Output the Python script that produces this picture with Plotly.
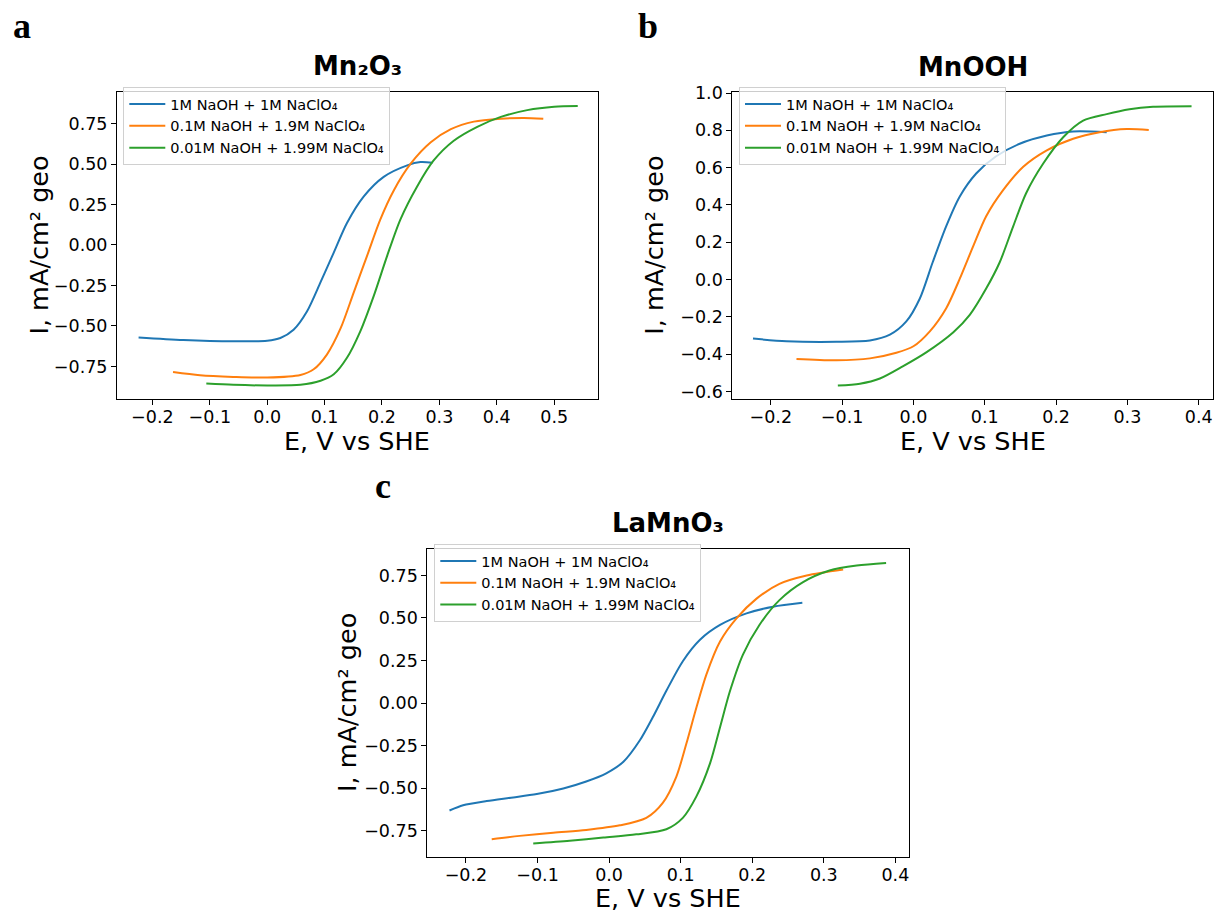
import plotly.graph_objects as go

W, H = 1216, 913

# ---------------- data ----------------
labels = ["1M NaOH + 1M NaClO₄", "0.1M NaOH + 1.9M NaClO₄", "0.01M NaOH + 1.99M NaClO₄"]
colors = ["#1f77b4", "#ff7f0e", "#2ca02c"]

# Panel a: Mn2O3
a_blue_x = [-0.224, -0.146, -0.059, 0.0, 0.023, 0.046, 0.069, 0.093, 0.116, 0.139, 0.168, 0.203, 0.244, 0.267, 0.288]
a_blue_y = [-0.571, -0.587, -0.595, -0.592, -0.575, -0.524, -0.413, -0.230, -0.047, 0.136, 0.299, 0.421, 0.492, 0.512, 0.508]
a_orange_x = [-0.164, -0.117, -0.059, 0.0, 0.058, 0.081, 0.104, 0.128, 0.151, 0.174, 0.197, 0.221, 0.250, 0.285, 0.320, 0.360, 0.407, 0.447, 0.481]
a_orange_y = [-0.785, -0.805, -0.815, -0.819, -0.803, -0.768, -0.677, -0.514, -0.291, -0.067, 0.157, 0.340, 0.502, 0.634, 0.715, 0.762, 0.780, 0.785, 0.780]
a_green_x = [-0.106, -0.059, 0.0, 0.058, 0.093, 0.116, 0.139, 0.162, 0.186, 0.209, 0.232, 0.261, 0.290, 0.325, 0.366, 0.407, 0.453, 0.500, 0.541]
a_green_y = [-0.856, -0.864, -0.868, -0.864, -0.839, -0.799, -0.697, -0.535, -0.311, -0.067, 0.157, 0.360, 0.522, 0.644, 0.730, 0.791, 0.833, 0.854, 0.858]

# Panel b: MnOOH
b_blue_x = [-0.225, -0.178, -0.108, -0.061, -0.033, -0.010, 0.009, 0.027, 0.046, 0.065, 0.088, 0.116, 0.149, 0.187, 0.224, 0.271]
b_blue_y = [-0.316, -0.330, -0.333, -0.326, -0.295, -0.224, -0.101, 0.093, 0.287, 0.446, 0.569, 0.661, 0.728, 0.772, 0.794, 0.790]
b_orange_x = [-0.164, -0.108, -0.061, -0.024, 0.0, 0.023, 0.046, 0.065, 0.084, 0.102, 0.126, 0.154, 0.187, 0.224, 0.261, 0.299, 0.330]
b_orange_y = [-0.425, -0.432, -0.422, -0.392, -0.357, -0.277, -0.153, 0.005, 0.181, 0.340, 0.481, 0.605, 0.693, 0.755, 0.790, 0.807, 0.802]
b_green_x = [-0.106, -0.075, -0.047, -0.015, 0.018, 0.056, 0.079, 0.102, 0.121, 0.140, 0.158, 0.182, 0.210, 0.238, 0.271, 0.303, 0.336, 0.390]
b_green_y = [-0.568, -0.558, -0.530, -0.465, -0.390, -0.282, -0.189, -0.048, 0.093, 0.287, 0.463, 0.622, 0.763, 0.852, 0.887, 0.913, 0.926, 0.929]

# Panel c: LaMnO3
c_blue_x = [-0.223, -0.204, -0.171, -0.134, -0.101, -0.064, -0.032, -0.004, 0.020, 0.043, 0.061, 0.080, 0.103, 0.127, 0.155, 0.192, 0.229, 0.270]
c_blue_y = [-0.632, -0.601, -0.576, -0.555, -0.535, -0.502, -0.461, -0.413, -0.345, -0.219, -0.084, 0.072, 0.246, 0.372, 0.459, 0.527, 0.566, 0.589]
c_orange_x = [-0.164, -0.125, -0.078, -0.032, 0.015, 0.052, 0.075, 0.094, 0.108, 0.122, 0.136, 0.155, 0.178, 0.206, 0.238, 0.276, 0.327]
c_orange_y = [-0.801, -0.781, -0.762, -0.746, -0.719, -0.675, -0.587, -0.432, -0.238, -0.026, 0.169, 0.362, 0.498, 0.614, 0.701, 0.750, 0.785]
c_green_x = [-0.106, -0.055, -0.008, 0.038, 0.080, 0.103, 0.122, 0.141, 0.155, 0.169, 0.187, 0.210, 0.238, 0.271, 0.308, 0.346, 0.387]
c_green_y = [-0.826, -0.810, -0.791, -0.772, -0.742, -0.675, -0.549, -0.355, -0.142, 0.072, 0.285, 0.459, 0.605, 0.711, 0.779, 0.808, 0.823]

titles = ["Mn₂O₃", "MnOOH", "LaMnO₃"]
panel_letters = ["a", "b", "c"]
x_label = "E, V vs SHE"
y_label = "I, mA/cm² geo"

a_xticks = [-0.2, -0.1, 0.0, 0.1, 0.2, 0.3, 0.4, 0.5]
a_yticks = [-0.75, -0.5, -0.25, 0.0, 0.25, 0.5, 0.75]
b_xticks = [-0.2, -0.1, 0.0, 0.1, 0.2, 0.3, 0.4]
b_yticks = [-0.6, -0.4, -0.2, 0.0, 0.2, 0.4, 0.6, 0.8, 1.0]
c_xticks = [-0.2, -0.1, 0.0, 0.1, 0.2, 0.3, 0.4]
c_yticks = [-0.75, -0.5, -0.25, 0.0, 0.25, 0.5, 0.75]

# ---------------- layout helpers ----------------
def px(x):
    return x / W

def py(y):
    return 1 - y / H

# axes boxes in pixels: (left, right, top, bottom)
boxes = [(117, 598, 84, 395), (732.3, 1213.3, 84.3, 395), (427.3, 909, 546.7, 858.3)]
xranges = [[-0.2616, 0.5763], [-0.254, 0.4205], [-0.254, 0.419]]
yranges = [[-0.953, 0.945], [-0.641, 1.004], [-0.905, 0.905]]
xticks = [a_xticks, b_xticks, c_xticks]
yticks = [a_yticks, b_yticks, c_yticks]
xfmt = [".1f", ".1f", ".1f"]
yfmt = [".2f", ".1f", ".2f"]
legend_pos = [(123.3, 79), (739, 79), (434.3, 541.5)]
ylabel_x = [39, 654, 347]

series = [
    [(a_blue_x, a_blue_y), (a_orange_x, a_orange_y), (a_green_x, a_green_y)],
    [(b_blue_x, b_blue_y), (b_orange_x, b_orange_y), (b_green_x, b_green_y)],
    [(c_blue_x, c_blue_y), (c_orange_x, c_orange_y), (c_green_x, c_green_y)],
]

FONT = "DejaVu Sans"
fig = go.Figure()
layout = dict(
    width=W, height=H, autosize=False,
    margin=dict(l=0, r=0, t=0, b=0),
    paper_bgcolor="white", plot_bgcolor="white",
    font=dict(family=FONT, color="black"),
    annotations=[],
)

for i in range(3):
    sfx = "" if i == 0 else str(i + 1)
    xa, ya = "x" + sfx, "y" + sfx
    leg = "legend" + sfx
    for j in range(3):
        xs, ys = series[i][j]
        fig.add_trace(go.Scatter(
            x=xs, y=ys, mode="lines", name=labels[j],
            line=dict(color=colors[j], width=2, shape="spline", smoothing=0.8),
            xaxis=xa, yaxis=ya, legend=leg, showlegend=True,
        ))
    l, r, t, b = boxes[i]
    common = dict(showline=True, linecolor="black", linewidth=1, mirror=True,
                  ticks="outside", ticklen=5, tickwidth=1, tickcolor="black",
                  showgrid=False, zeroline=False,
                  tickfont=dict(family=FONT, size=17.5, color="black"))
    layout["xaxis" + sfx] = dict(common, domain=[px(l), px(r)], range=xranges[i],
                                 tickvals=xticks[i], tickformat=xfmt[i], anchor=ya,
                                 ticklabelstandoff=-3)
    layout["yaxis" + sfx] = dict(common, domain=[py(b), py(t)], range=yranges[i],
                                 tickvals=yticks[i], tickformat=yfmt[i], anchor=xa)
    lx, ly = legend_pos[i]
    layout[leg] = dict(x=px(lx), y=py(ly), xanchor="left", yanchor="top",
                       bgcolor="rgba(255,255,255,0.8)", bordercolor="#d0d0d0", borderwidth=1,
                       font=dict(family=FONT, size=14.5, color="black"), itemwidth=36,
                       tracegroupgap=0)
    cx = (l + r) / 2
    cy = (t + b) / 2
    # title
    layout["annotations"].append(dict(text="<b>" + titles[i] + "</b>", x=px(cx), y=py(t - 26),
                                      xref="paper", yref="paper", showarrow=False,
                                      xanchor="center", yanchor="middle",
                                      font=dict(family=FONT, size=26, color="black")))
    # x label
    layout["annotations"].append(dict(text=x_label, x=px(cx), y=py(b + 42),
                                      xref="paper", yref="paper", showarrow=False,
                                      xanchor="center", yanchor="middle",
                                      font=dict(family=FONT, size=25.5, color="black")))
    # y label
    layout["annotations"].append(dict(text=y_label, x=px(ylabel_x[i]), y=py(cy),
                                      xref="paper", yref="paper", showarrow=False,
                                      xanchor="center", yanchor="middle", textangle=-90,
                                      font=dict(family=FONT, size=25.5, color="black")))

letter_pos = [(21.7, 17), (648.3, 17), (383.3, 483)]
for k, (lx, ly) in enumerate(letter_pos):
    layout["annotations"].append(dict(text="<b>" + panel_letters[k] + "</b>", x=px(lx), y=py(ly),
                                      xref="paper", yref="paper", showarrow=False,
                                      xanchor="center", yanchor="middle",
                                      font=dict(family="Liberation Serif", size=36, color="black")))

fig.update_layout(**layout)
fig.write_html("out.html", config={"displayModeBar": False},
               post_script="document.body.style.margin='0';")
